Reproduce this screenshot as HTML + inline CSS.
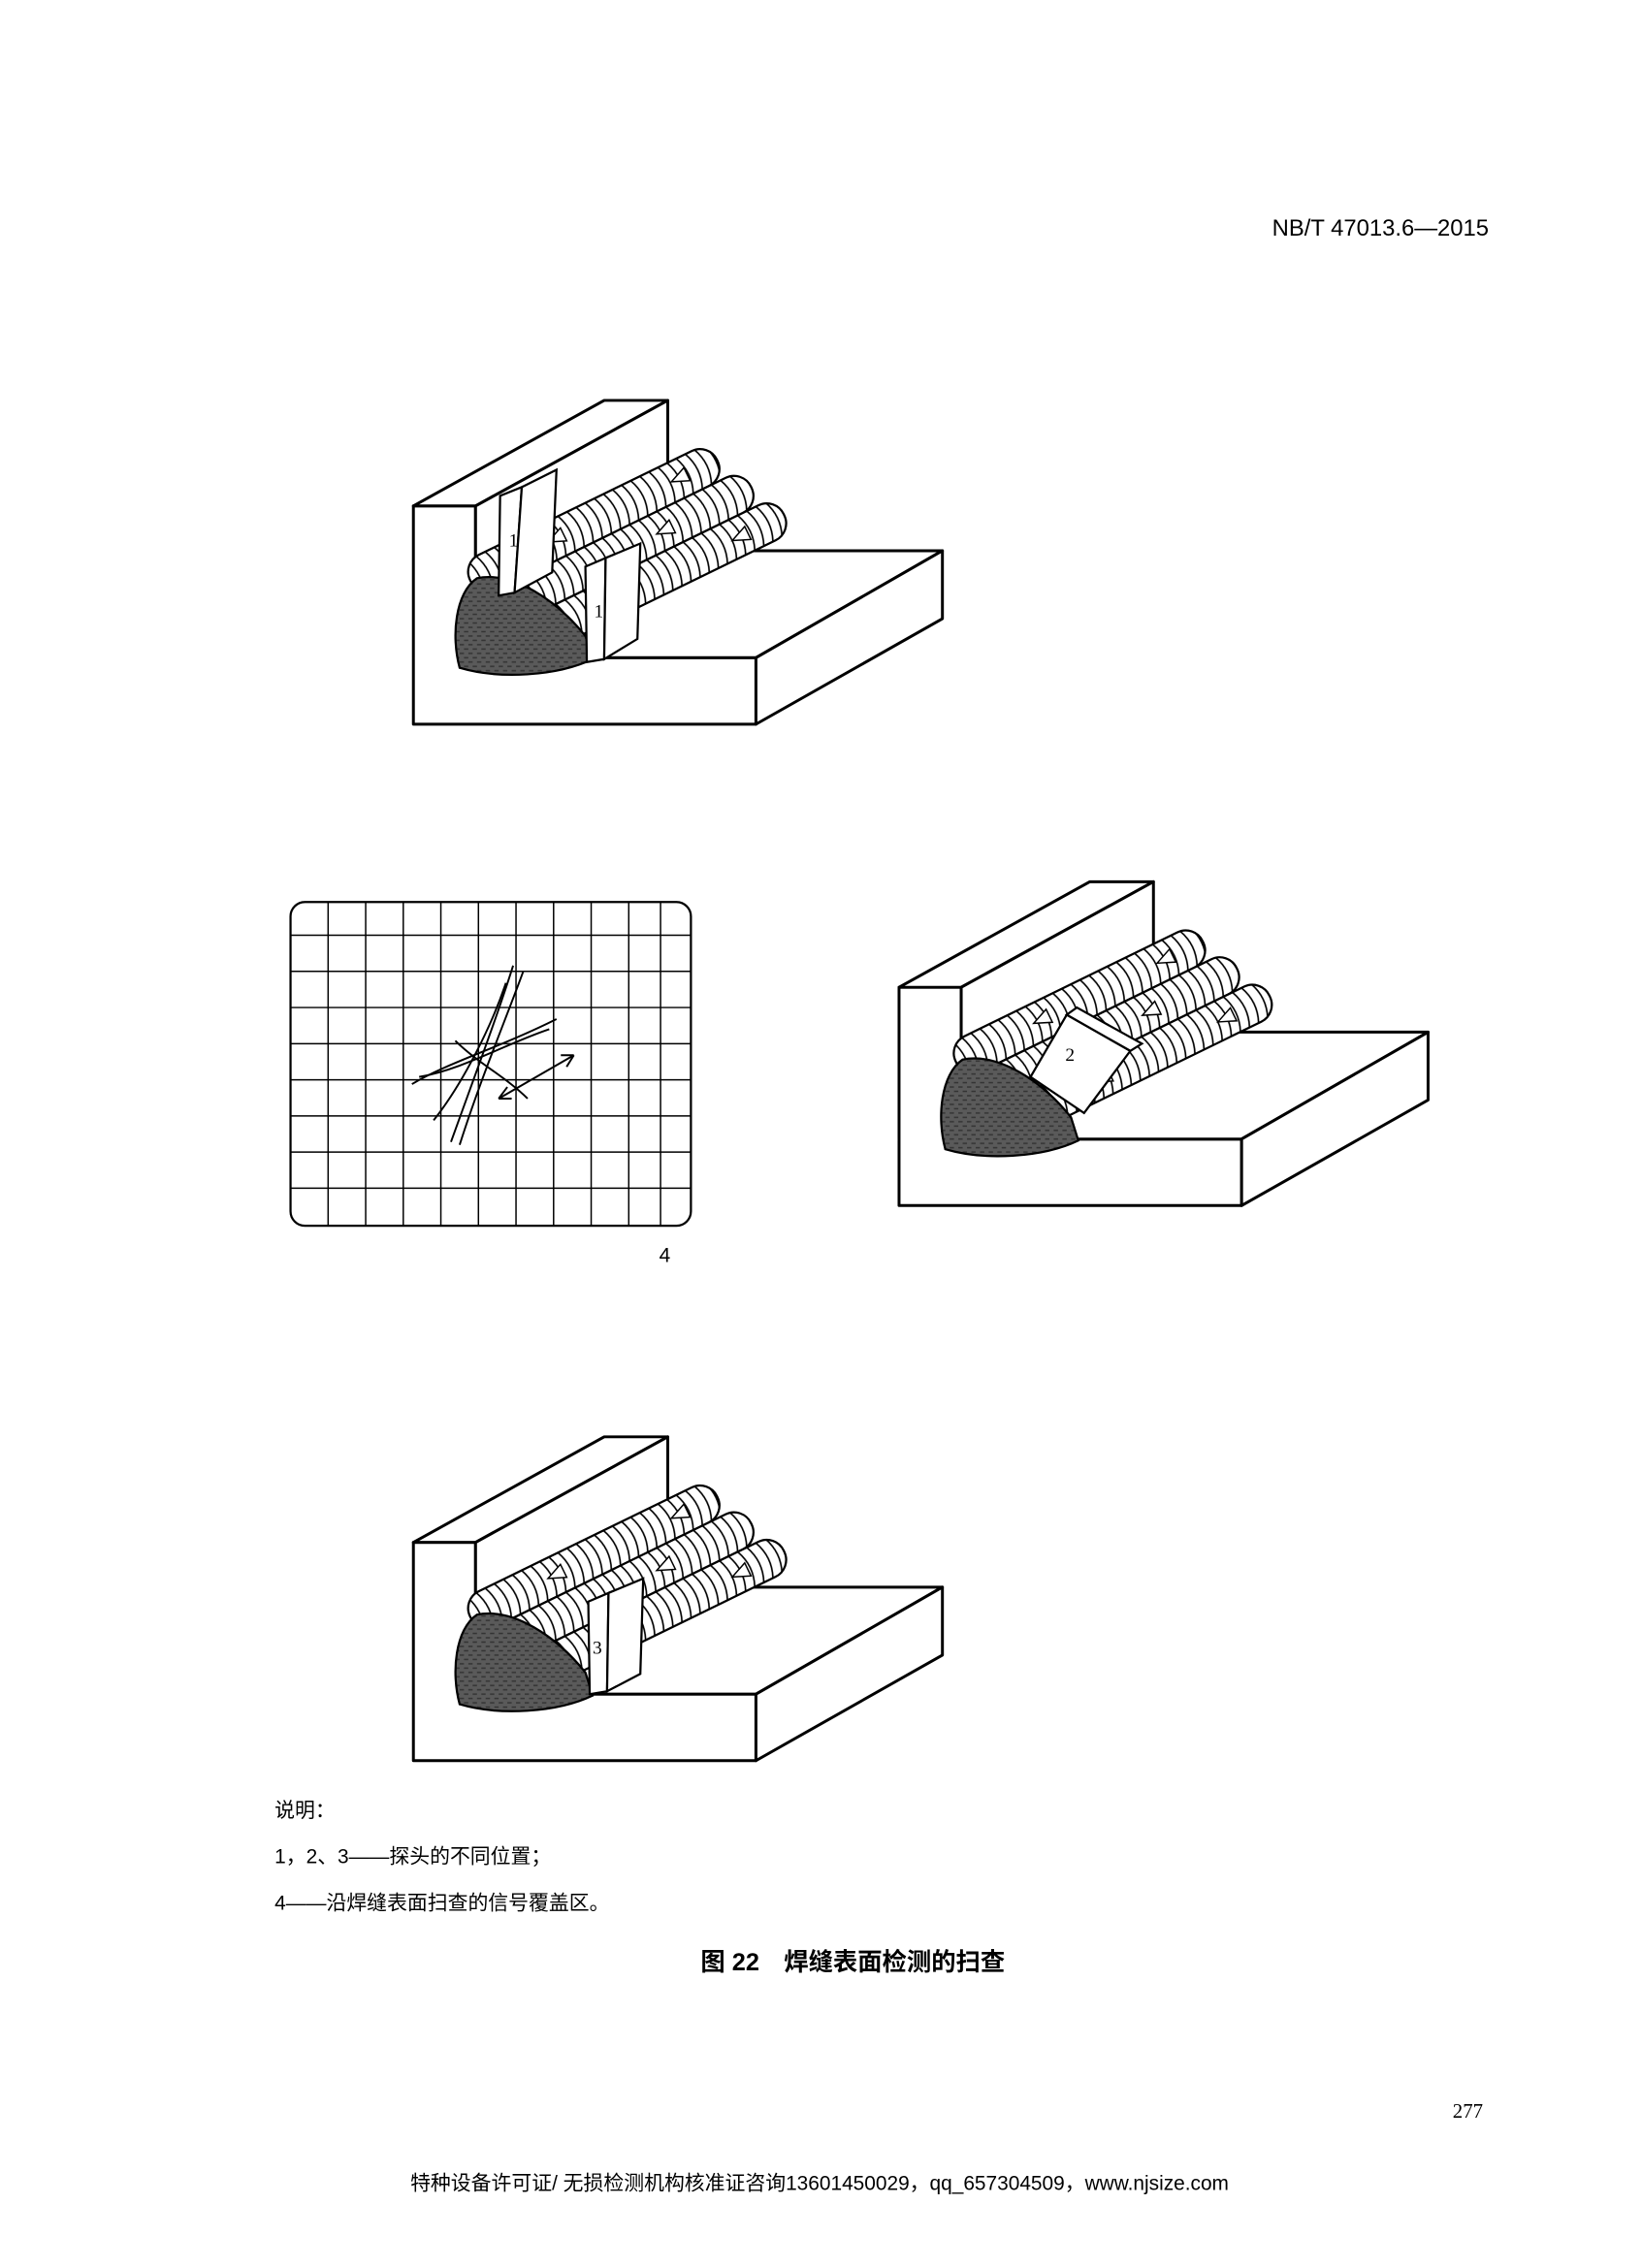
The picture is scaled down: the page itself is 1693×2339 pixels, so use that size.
<!DOCTYPE html>
<html><head><meta charset="utf-8"><style>
html,body{margin:0;padding:0;background:#fff}
svg{display:block}
</style></head><body>
<svg width="1693" height="2339" viewBox="0 0 1136 1569" preserveAspectRatio="none" xmlns="http://www.w3.org/2000/svg">
<defs>
<pattern id="arcs" width="7" height="27" patternUnits="userSpaceOnUse">
<rect width="7" height="27" fill="#fff"/>
<path d="M1,0 Q7,13.5 1,27" fill="none" stroke="#000" stroke-width="1.1"/>
</pattern>
<pattern id="dark" width="6" height="6" patternUnits="userSpaceOnUse">
<rect width="6" height="6" fill="#5a5a5a"/>
<path d="M0,2 H3 M3,5 H6" stroke="#333" stroke-width="1"/>
</pattern>
<g id="block">
<g fill="none" stroke="#000" stroke-width="2" stroke-linejoin="round">
<path d="M286,350 L286,501 L523,501 L523,455 L329,455 L329,350 Z" fill="#fff"/>
<path d="M286,350 L418,277 L462,277 L329,350 Z" fill="#fff"/>
<path d="M329,350 L462,277 L462,381 L329,455 Z" fill="#fff"/>
<path d="M329,455 L462,381 L652,381 L523,455 Z" fill="#fff"/>
<path d="M523,455 L652,381 L652,428 L523,501 Z" fill="#fff"/>
</g>
<g transform="translate(364,458) rotate(-26)">
<rect x="-10" y="-81" width="190" height="27" rx="13" fill="url(#arcs)" stroke="#000" stroke-width="1.5"/>
<rect x="-5" y="-54" width="198" height="27" rx="13" fill="url(#arcs)" stroke="#000" stroke-width="1.5"/>
<rect x="0" y="-27" width="205" height="27" rx="13" fill="url(#arcs)" stroke="#000" stroke-width="1.5"/>
<path d="M50,-68 l12,-5 v10 z M120,-40 l12,-5 v10 z M165,-13 l12,-5 v10 z M145,-68 l12,-5 v10 z M70,-13 l12,-5 v10 z" fill="#fff" stroke="#000" stroke-width="1"/>
</g>
<path d="M330,400 C355,395 385,415 405,440 L410,456 C385,468 345,470 318,462 C312,440 315,410 330,400 Z" fill="url(#dark)" stroke="#000" stroke-width="1.5"/>
</g>
</defs>
<use href="#block"/>
<g stroke="#000" stroke-width="1.5" fill="#fff">
<path d="M346,343 L361,337 L356,410 L345,412 Z"/>
<path d="M361,337 L385,325 L382,396 L356,410 Z"/>
<path d="M405,392 L419,386 L418,456 L406,458 Z"/>
<path d="M419,386 L443,376 L441,442 L418,456 Z"/>
</g>
<text x="352" y="378" font-family="Liberation Serif,serif" font-size="13">1</text>
<text x="411" y="427" font-family="Liberation Serif,serif" font-size="13">1</text>
<use href="#block" transform="translate(336,333)"/>
<g stroke="#000" stroke-width="1.5" fill="#fff">
<path d="M713,745 L738,702 L782,727 L750,770 Z"/>
<path d="M738,702 L745,697 L790,722 L782,727 Z"/>
</g>
<text x="737" y="734" font-family="Liberation Serif,serif" font-size="13">2</text>
<use href="#block" transform="translate(0,717)"/>
<g stroke="#000" stroke-width="1.5" fill="#fff">
<path d="M407,1108 L421,1102 L420,1170 L408,1172 Z"/>
<path d="M421,1102 L445,1092 L443,1158 L420,1170 Z"/>
</g>
<text x="410" y="1144" font-family="Liberation Serif,serif" font-size="13">3</text>
<rect x="201" y="624" width="277" height="224" rx="10" fill="#fff" stroke="#000" stroke-width="1.5"/>
<g stroke="#000" stroke-width="1">
<path d="M227,624V848 M253,624V848 M279,624V848 M305,624V848 M331,624V848 M357,624V848 M383,624V848 M409,624V848 M435,624V848 M457,624V848"/>
<path d="M201,647H478 M201,672H478 M201,697H478 M201,722H478 M201,747H478 M201,772H478 M201,797H478 M201,822H478"/>
</g>
<g stroke="#000" stroke-width="1.3" fill="none">
<path d="M355,668 C345,700 330,740 312,790"/>
<path d="M362,672 C350,705 333,745 318,792"/>
<path d="M350,680 C340,710 320,750 300,775"/>
<path d="M285,750 C310,735 345,725 385,705"/>
<path d="M290,745 C320,740 350,722 380,712"/>
<path d="M315,720 C330,735 350,745 365,760"/>
<path d="M345,760 L397,730"/>
<path d="M345,760 l6,-8 M345,760 l9,0 M397,730 l-9,0 M397,730 l-5,8"/>
</g>
<text x="456" y="873" font-family="Liberation Sans,sans-serif" font-size="14">4</text>
<text x="1030" y="163" text-anchor="end" font-family="Liberation Sans,sans-serif" font-size="16">NB/T 47013.6—2015</text>
<g font-family="Liberation Sans,'Noto Sans CJK SC',sans-serif" font-size="14">
<text x="190" y="1257">说明：</text>
<text x="190" y="1289">1，2、3——探头的不同位置；</text>
<text x="190" y="1321">4——沿焊缝表面扫查的信号覆盖区。</text>
<text x="590" y="1363" text-anchor="middle" font-size="17" font-weight="bold">图 22　焊缝表面检测的扫查</text>
<text x="1026" y="1465" text-anchor="end" font-family="Liberation Serif,serif">277</text>
<text x="567" y="1515" text-anchor="middle" font-size="14">特种设备许可证/ 无损检测机构核准证咨询13601450029，qq_657304509，www.njsize.com</text>
</g>
</svg>
</body></html>
